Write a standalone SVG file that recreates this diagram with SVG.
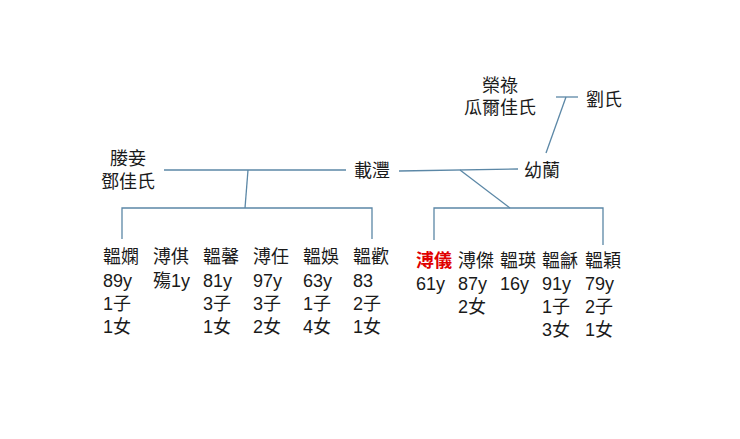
<svg xmlns="http://www.w3.org/2000/svg" width="740" height="439" viewBox="0 0 740 439">
<style>
text{font-family:"Liberation Sans","Noto Sans CJK TC",sans-serif;font-size:18px;fill:#1a1a1a}
.c line,.c polyline{stroke:#5b87a6;stroke-width:1.3;fill:none}
.r{fill:#e00000;font-weight:bold}
</style>
<rect width="740" height="439" fill="#fff"/>
<g class="c" id="connectors">
<line x1="164" y1="170" x2="346" y2="170"/>
<line x1="399" y1="171" x2="518" y2="169"/>
<line x1="248" y1="170" x2="245" y2="208"/>
<polyline points="122,239 122,208 372,208 372,239"/>
<line x1="460" y1="170" x2="510" y2="208"/>
<polyline points="434,240 434,208 603,208 603,245"/>
<line x1="546" y1="153" x2="566" y2="97"/>
<line x1="556" y1="97" x2="578" y2="97"/>
</g>
<g id="n1"><text x="128" y="165" text-anchor="middle">媵妾</text><text x="128" y="188" text-anchor="middle">鄧佳氏</text></g>
<g id="n2"><text x="372" y="177" text-anchor="middle">載灃</text></g>
<g id="n3"><text x="542" y="177" text-anchor="middle">幼蘭</text></g>
<g id="n4"><text x="500" y="92" text-anchor="middle">榮祿</text><text x="500" y="114" text-anchor="middle">瓜爾佳氏</text></g>
<g id="n5"><text x="604" y="106" text-anchor="middle">劉氏</text></g>
<g id="k1"><text x="103" y="263">韞嫻</text><text x="103" y="287">89y</text><text x="103" y="310">1子</text><text x="103" y="333">1女</text></g>
<g id="k2"><text x="153" y="263">溥倛</text><text x="153" y="287">殤1y</text></g>
<g id="k3"><text x="203" y="263">韞馨</text><text x="203" y="287">81y</text><text x="203" y="310">3子</text><text x="203" y="333">1女</text></g>
<g id="k4"><text x="253" y="263">溥任</text><text x="253" y="287">97y</text><text x="253" y="310">3子</text><text x="253" y="333">2女</text></g>
<g id="k5"><text x="303" y="263">韞娛</text><text x="303" y="287">63y</text><text x="303" y="310">1子</text><text x="303" y="333">4女</text></g>
<g id="k6"><text x="353" y="263">韞歡</text><text x="353" y="287">83</text><text x="353" y="310">2子</text><text x="353" y="333">1女</text></g>
<g id="k7"><text x="416" y="267" class="r">溥儀</text><text x="416" y="290">61y</text></g>
<g id="k8"><text x="458" y="267">溥傑</text><text x="458" y="290">87y</text><text x="458" y="313">2女</text></g>
<g id="k9"><text x="500" y="267">韞瑛</text><text x="500" y="290">16y</text></g>
<g id="k10"><text x="542" y="267">韞龢</text><text x="542" y="290">91y</text><text x="542" y="313">1子</text><text x="542" y="336">3女</text></g>
<g id="k11"><text x="585" y="267">韞穎</text><text x="585" y="290">79y</text><text x="585" y="313">2子</text><text x="585" y="336">1女</text></g>
</svg>
